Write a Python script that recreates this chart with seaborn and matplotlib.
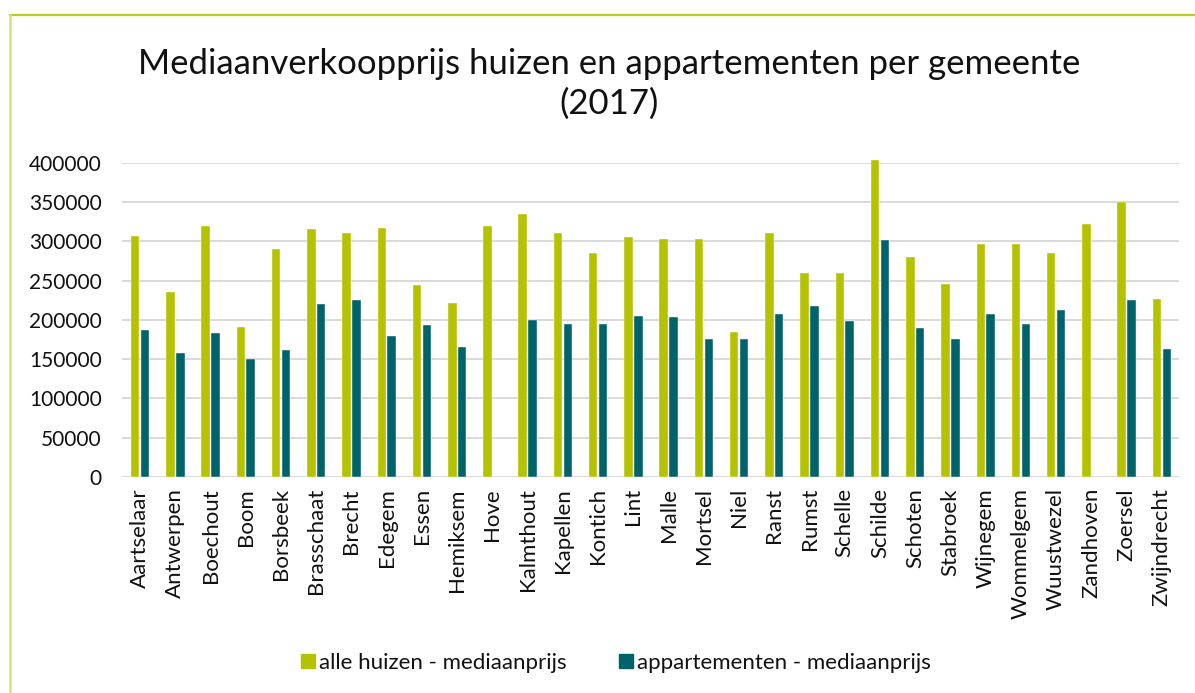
import matplotlib
matplotlib.use("Agg")
import matplotlib.pyplot as plt
from matplotlib.lines import Line2D
import numpy as np
import pandas as pd
import seaborn as sns

gemeenten = [
    "Aartselaar", "Antwerpen", "Boechout", "Boom", "Borsbeek", "Brasschaat",
    "Brecht", "Edegem", "Essen", "Hemiksem", "Hove", "Kalmthout", "Kapellen",
    "Kontich", "Lint", "Malle", "Mortsel", "Niel", "Ranst", "Rumst", "Schelle",
    "Schilde", "Schoten", "Stabroek", "Wijnegem", "Wommelgem", "Wuustwezel",
    "Zandhoven", "Zoersel", "Zwijndrecht",
]
huizen = [
    307000, 235000, 320000, 191000, 290000, 315000, 310000, 317000, 244000,
    221000, 320000, 335000, 310000, 285000, 305000, 303000, 303000, 185000,
    310000, 259000, 260000, 403000, 280000, 245000, 297000, 297000, 285000,
    322000, 350000, 226000,
]
appartementen = [
    187000, 158000, 183000, 150000, 162000, 220000, 225000, 180000, 194000,
    166000, np.nan, 200000, 195000, 195000, 205000, 204000, 175000, 176000,
    207000, 217000, 199000, 301000, 190000, 175000, 208000, 195000, 213000,
    np.nan, 225000, 163000,
]
reeksen = ["alle huizen - mediaanprijs", "appartementen - mediaanprijs"]
kleuren = ["#b5c200", "#00636a"]
yticks = [0, 50000, 100000, 150000, 200000, 250000, 300000, 350000, 400000]

df = pd.DataFrame({
    "gemeente": gemeenten * 2,
    "reeks": [reeksen[0]] * len(gemeenten) + [reeksen[1]] * len(gemeenten),
    "prijs": huizen + appartementen,
})

sns.set_theme(style="white")
plt.rcParams["font.family"] = ["Lato", "DejaVu Sans"]

fig = plt.figure(figsize=(11.95, 6.93), dpi=100)
ax = fig.add_axes([0.1025, 0.3117, 0.8845, 0.4535])

sns.barplot(
    data=df, x="gemeente", y="prijs", hue="reeks", order=gemeenten,
    hue_order=reeksen, palette=kleuren, saturation=1, width=0.56, gap=0.14,
    edgecolor="white", linewidth=0.3, legend=False, ax=ax, zorder=3,
)
for p in ax.patches:
    p.set_clip_on(False)

ax.set_xlim(-0.5, len(gemeenten) - 0.5)
ax.set_ylim(0, 400000)
ax.set_yticks(yticks)
ax.set_yticklabels([str(v) for v in yticks])
ax.yaxis.grid(True, color="#d9d9d9", linewidth=1.4, zorder=0)
ax.xaxis.grid(False)
for s in ax.spines.values():
    s.set_visible(False)
ax.axhline(0, color="#d9d9d9", linewidth=1.4, zorder=1)
ax.set_xlabel("")
ax.set_ylabel("")
ax.tick_params(axis="y", labelsize=15, colors="#111111", length=0, pad=15)
ax.tick_params(axis="x", labelsize=16, colors="#111111", length=0, pad=8)
plt.setp(ax.get_xticklabels(), rotation=90, va="top", ha="center")

fig.text(0.51, 1 - 84 / 693,
         "Mediaanverkoopprijs huizen en appartementen per gemeente\n(2017)",
         ha="center", va="center", fontsize=25, color="#111111",
         linespacing=1.32)

handles = [
    Line2D([], [], marker="s", linestyle="none", markersize=9.5,
           markerfacecolor=c, markeredgecolor=c)
    for c in kleuren
]
fig.legend(handles, reeksen, loc="center", ncol=2,
           bbox_to_anchor=(615 / 1195, 1 - 663 / 693), frameon=False,
           fontsize=16, handletextpad=0.1, columnspacing=2.3,
           handlelength=0.8, labelcolor="#111111")

# frame lines along the top and left
fig.add_artist(Line2D([9.5 / 1195, 1], [1 - 14.5 / 693, 1 - 14.5 / 693],
                      transform=fig.transFigure, color="#bfcc1a", linewidth=1.6))
fig.add_artist(Line2D([9.5 / 1195, 9.5 / 1195], [0, 1 - 14.5 / 693],
                      transform=fig.transFigure, color="#d8e07a", linewidth=1.8))

fig.savefig("out.png", dpi=100, facecolor="white")
